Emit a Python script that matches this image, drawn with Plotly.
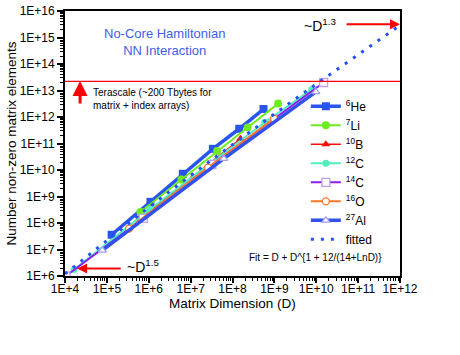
import plotly.graph_objects as go

# ---- data ----
he6_D = [1.3e5, 1.1e6, 6.5e6, 3.4e7, 1.45e8, 5.5e8]
he6_N = [3.6e7, 6.3e8, 7.2e9, 6.3e10, 3.6e11, 2.0e12]

li7_D = [6.3e5, 6.0e6, 4.3e7, 2.3e8, 1.23e9]
li7_N = [2.6e8, 4.4e9, 5.2e10, 4.0e11, 3.2e12]

b10_D = [5.8e5, 1.15e7, 1.55e8]
b10_N = [1.35e8, 5.5e9, 1.5e11]

c12_D = [1.65e4, 1.05e6, 3.0e7, 5.9e8, 7.8e9]
c12_N = [1.75e6, 3.2e8, 1.85e10, 6.3e11, 1.1e13]

c14_D = [1.05e4, 7.4e5, 3.2e7, 1.5e10]
c14_N = [1.0e6, 1.5e8, 1.6e10, 2.0e13]

o16_D = [3.4e5, 2.6e7, 9.8e8]
o16_N = [6.2e7, 1.23e10, 8.7e11]

al27_D = [7.8e4, 6.2e7, 9.8e9]
al27_N = [9.3e6, 2.7e10, 8.9e12]

fit_D = [1e4, 1e5, 1e6, 1e7, 1e8, 1e9, 1e10, 1e11, 1e12]
fit_N = [1.2e6, 2.2e7, 3.9e8, 6.2e9, 9.1e10, 1.3e12, 1.75e13, 2.3e14, 2.9e15]

terascale_N = 2.2e13

x_tickvals = [1e4, 1e5, 1e6, 1e7, 1e8, 1e9, 1e10, 1e11, 1e12]
x_ticktext = ["1E+4", "1E+5", "1E+6", "1E+7", "1E+8", "1E+9", "1E+10", "1E+11", "1E+12"]
y_tickvals = [10.0 ** k for k in range(6, 17)]
y_ticktext = ["1E+%d" % k for k in range(6, 17)]

FONT = "Liberation Sans, Arial, Helvetica, sans-serif"

fig = go.Figure()

def add(name, xs, ys, color, lw, symbol, msize, mfill=None, mline=None):
    marker = dict(symbol=symbol, size=msize, color=mfill if mfill else color)
    if mline:
        marker["line"] = dict(color=mline, width=1.3)
    fig.add_trace(go.Scatter(x=xs, y=ys, name=name, mode="lines+markers",
                             line=dict(color=color, width=lw), marker=marker))

add("<sup>6</sup>He", he6_D, he6_N, "rgb(40,85,240)", 3.5, "square", 8)
add("<sup>7</sup>Li", li7_D, li7_N, "rgb(110,235,30)", 2, "circle", 8)
add("<sup>10</sup>B", b10_D, b10_N, "rgb(245,15,15)", 1.5, "triangle-up", 8)
add("<sup>12</sup>C", c12_D, c12_N, "rgb(80,240,190)", 2, "circle", 7)
add("<sup>14</sup>C", c14_D, c14_N, "rgb(140,30,230)", 2, "square", 8, "white", "rgb(190,160,240)")
add("<sup>16</sup>O", o16_D, o16_N, "rgb(255,120,40)", 2, "circle", 7, "white", "rgb(255,120,40)")
add("<sup>27</sup>Al", al27_D, al27_N, "rgb(50,80,235)", 3.5, "triangle-up", 7, "white", "rgb(160,160,240)")
fig.add_trace(go.Scatter(x=fit_D, y=fit_N, name="fitted", mode="lines",
                         line=dict(color="rgb(40,80,240)", width=3, dash="3px,7px")))

# Terascale line
fig.add_shape(type="line", xref="x domain", x0=0, x1=1, yref="y",
              y0=terascale_N, y1=terascale_N, line=dict(color="red", width=1.2))

ann = []
ann.append(dict(xref="paper", yref="paper", x=0.2985, y=0.882, text="No-Core Hamiltonian<br>NN Interaction",
                showarrow=False, font=dict(family=FONT, size=13, color="rgb(60,95,230)"),
                xanchor="center", yanchor="middle"))
ann.append(dict(x=4.62, y=12.67, text="Terascale (~200 Tbytes for<br>matrix + index arrays)",
                showarrow=False, xanchor="left", yanchor="middle", align="left",
                font=dict(family=FONT, size=10, color="black")))
# up arrow
ann.append(dict(x=4.36, y=13.36, ax=0, ay=24, text="", showarrow=True, arrowhead=2,
                arrowsize=1, arrowwidth=3, arrowcolor="red"))
# D^1.3
ann.append(dict(x=10.52, y=15.46, text="~D<sup>1.3</sup>", showarrow=False, xanchor="right",
                font=dict(family=FONT, size=14, color="black")))
ann.append(dict(x=12.0, y=15.50, ax=-55, ay=0, text="", showarrow=True, arrowhead=2,
                arrowsize=1, arrowwidth=2, arrowcolor="red"))
# D^1.5
ann.append(dict(x=5.43, y=6.36, text="~D<sup>1.5</sup>", showarrow=False, xanchor="left",
                font=dict(family=FONT, size=14, color="black")))
ann.append(dict(x=4.29, y=6.28, ax=45, ay=0, text="", showarrow=True, arrowhead=2,
                arrowsize=1, arrowwidth=2, arrowcolor="red"))
# Fit formula
ann.append(dict(x=9.99, y=6.71, text="Fit = D + D^{1 + 12/(14+LnD)}", showarrow=False,
                font=dict(family=FONT, size=10, color="black")))
# x-axis title
ann.append(dict(xref="paper", yref="paper", x=0.5, y=-0.102, text="Matrix Dimension (D)",
                showarrow=False, xanchor="center", yanchor="middle",
                font=dict(family=FONT, size=13.5, color="black")))

fig.update_layout(
    width=460, height=355,
    margin=dict(l=65, r=60, t=11, b=79, autoexpand=False),
    paper_bgcolor="white", plot_bgcolor="white",
    font=dict(family=FONT, size=12, color="black"),
    annotations=ann,
    legend=dict(x=0.719, y=0.695, xanchor="left", yanchor="top",
                font=dict(family=FONT, size=12), itemwidth=30,
                bgcolor="rgba(0,0,0,0)", tracegroupgap=0),
)
fig.update_xaxes(type="log", range=[4, 12], tickmode="array", tickvals=x_tickvals, ticktext=x_ticktext,
                 ticks="outside", ticklen=5, tickwidth=1.5, tickcolor="black", automargin=False,
                 showline=True, linecolor="black", linewidth=1.8, mirror=True,
                 showgrid=False, zeroline=False, tickfont=dict(size=12),
                 minor=dict(ticks="outside", ticklen=3, tickwidth=1, tickcolor="black", dtick="D1", showgrid=False))
fig.update_yaxes(type="log", range=[6, 16], tickmode="array", tickvals=y_tickvals, ticktext=y_ticktext,
                 ticks="outside", ticklen=6, tickwidth=1.5, tickcolor="black", automargin=False,
                 showline=True, linecolor="black", linewidth=1.8, mirror=True,
                 showgrid=False, zeroline=False, tickfont=dict(size=12),
                 minor=dict(ticks="outside", ticklen=3, tickwidth=1, tickcolor="black", dtick="D1", showgrid=False),
                 title=dict(text="Number non-zero matrix elements", font=dict(size=13.5), standoff=0))
try:
    fig.update_xaxes(ticklabelstandoff=-4)
except Exception:
    pass

fig.write_html("out.html", config={"displayModeBar": False},
               post_script="document.body.style.margin='0px';")
